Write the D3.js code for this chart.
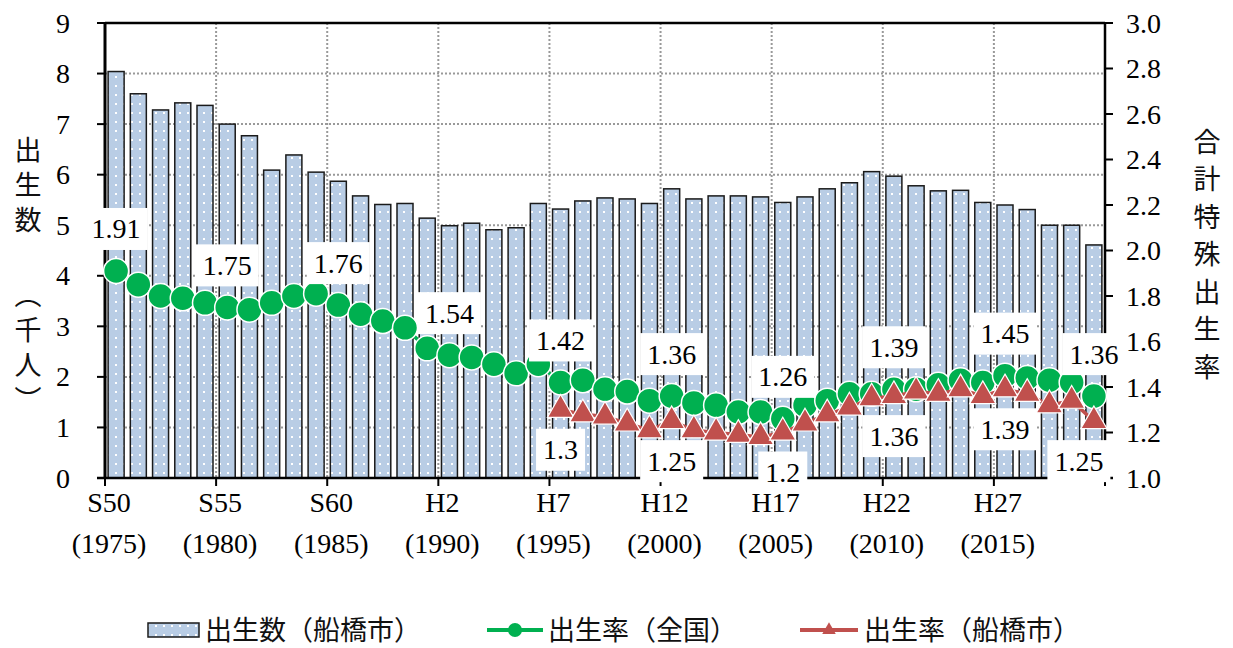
<!DOCTYPE html>
<html><head><meta charset="utf-8">
<script src="https://cdn.jsdelivr.net/npm/d3@7"></script>
<style>html,body{margin:0;padding:0;background:#fff;}svg{display:block;}</style>
</head><body>
<svg id="chart" width="1233" height="648"></svg>
<script>
// ---- data ----
const years = d3.range(1975, 2020);
const births = [8.04,7.60,7.28,7.42,7.37,7.00,6.77,6.09,6.39,6.05,
                5.87,5.58,5.41,5.43,5.14,4.99,5.04,4.91,4.95,5.43,
                5.32,5.48,5.54,5.52,5.43,5.72,5.52,5.58,5.58,5.56,
                5.45,5.56,5.72,5.84,6.06,5.97,5.78,5.68,5.69,5.45,
                5.40,5.31,5.00,5.00,4.61];
const tfrNational = [1.91,1.85,1.80,1.79,1.77,1.75,1.74,1.77,1.80,1.81,
                     1.76,1.72,1.69,1.66,1.57,1.54,1.53,1.50,1.46,1.50,
                     1.42,1.43,1.39,1.38,1.34,1.36,1.33,1.32,1.29,1.29,
                     1.26,1.32,1.34,1.37,1.37,1.39,1.39,1.41,1.43,1.42,
                     1.45,1.44,1.43,1.42,1.36];
const funabashiYears = d3.range(1995, 2020);
const tfrFunabashi = [1.30,1.28,1.27,1.24,1.21,1.25,1.21,1.20,1.19,1.18,
                      1.20,1.24,1.28,1.31,1.35,1.36,1.38,1.37,1.39,1.36,
                      1.39,1.37,1.32,1.34,1.25];
const nationalLabelYears = [1975,1980,1985,1990,1995,2000,2005,2010,2015,2019];
const funabashiLabelYears = [1995,2000,2005,2010,2015,2019];
const tickYears = [1975,1980,1985,1990,1995,2000,2005,2010,2015];
const tickEra = ["S50","S55","S60","H2","H7","H12","H17","H22","H27"];
const leftTicks = d3.range(0, 10);
const rightTicks = [1.0,1.2,1.4,1.6,1.8,2.0,2.2,2.4,2.6,2.8,3.0];
const legendNames = ["出生数（船橋市）","出生率（全国）","出生率（船橋市）"];
const leftTitle = ["出生数", "（千人）"];
const rightTitle = "合計特殊出生率";

// ---- layout ----
const L = 105, R = 1105, T = 23, B = 478;
const svg = d3.select("#chart");
const x = d3.scaleBand().domain(years).range([L, R]).padding(0);
const yL = d3.scaleLinear().domain([0, 9]).range([B, T]);
const yR = d3.scaleLinear().domain([1, 3]).range([B, T]);
const cx = yr => x(yr) + x.bandwidth() / 2;
const tickX = yr => x(yr);
const numFont = "Liberation Serif, DejaVu Serif, serif";
const jpFont = "Noto Sans CJK JP, Noto Sans, sans-serif";
const BLUE = "#b9cde5", GREEN = "#00b050", RED = "#c0504d";

// pattern
const defs = svg.append("defs");
const pat = defs.append("pattern").attr("id", "dots").attr("patternUnits", "userSpaceOnUse")
  .attr("width", 8).attr("height", 9);
pat.append("rect").attr("width", 8).attr("height", 9).attr("fill", BLUE);
pat.append("rect").attr("x", 3).attr("y", 4).attr("width", 2).attr("height", 2).attr("fill", "#fff");

// gridlines
const grid = svg.append("g");
grid.selectAll("line.h").data(leftTicks.filter(d => d > 0 && d < 9)).join("line")
  .attr("x1", L).attr("x2", R).attr("y1", d => yL(d)).attr("y2", d => yL(d))
  .attr("stroke", "#999").attr("stroke-width", 2).attr("stroke-dasharray", "2,2");
grid.selectAll("line.v").data(tickYears.slice(1)).join("line")
  .attr("x1", d => tickX(d)).attr("x2", d => tickX(d)).attr("y1", T).attr("y2", B)
  .attr("stroke", "#999").attr("stroke-width", 2).attr("stroke-dasharray", "2,2");

// bars
const bw = x.bandwidth() * 0.72;
svg.append("g").selectAll("rect").data(years).join("rect")
  .attr("x", (d) => cx(d) - bw / 2)
  .attr("y", (d, i) => yL(births[i]))
  .attr("width", bw)
  .attr("height", (d, i) => B - yL(births[i]))
  .attr("fill", "url(#dots)").attr("stroke", "#1a1a1a").attr("stroke-width", 1.5);

// axes
const ax = svg.append("g").attr("stroke", "#000");
ax.append("line").attr("x1", L).attr("x2", R).attr("y1", T).attr("y2", T).attr("stroke-width", 2.5);
ax.append("line").attr("x1", L).attr("x2", L).attr("y1", T).attr("y2", B).attr("stroke-width", 3);
ax.append("line").attr("x1", R).attr("x2", R).attr("y1", T).attr("y2", B).attr("stroke-width", 2.5);
ax.append("line").attr("x1", L - 8).attr("x2", R + 8).attr("y1", B).attr("y2", B).attr("stroke-width", 2.5);
ax.selectAll("line.lt").data(leftTicks).join("line")
  .attr("x1", L - 8).attr("x2", L).attr("y1", d => yL(d)).attr("y2", d => yL(d)).attr("stroke-width", 2);
ax.selectAll("line.rt").data(rightTicks).join("line")
  .attr("x1", R).attr("x2", R + 8).attr("y1", d => yR(d)).attr("y2", d => yR(d)).attr("stroke-width", 2);
ax.selectAll("line.bt").data(tickYears.map(tickX).concat([R])).join("line")
  .attr("x1", d => d).attr("x2", d => d).attr("y1", B).attr("y2", B + 8).attr("stroke-width", 2);

// tick labels
svg.append("g").selectAll("text").data(leftTicks).join("text")
  .attr("x", 70).attr("y", d => yL(d)).attr("dy", "0.34em").attr("text-anchor", "end")
  .attr("font-family", numFont).attr("font-size", 28).text(d => d);
svg.append("g").selectAll("text").data(rightTicks).join("text")
  .attr("x", 1126).attr("y", d => yR(d)).attr("dy", "0.34em").attr("text-anchor", "start")
  .attr("font-family", numFont).attr("font-size", 28).text(d => d.toFixed(1));
const xl = svg.append("g").attr("font-family", numFont).attr("font-size", 28).attr("text-anchor", "middle");
xl.selectAll("text.e").data(tickYears).join("text")
  .attr("x", d => tickX(d) + 4).attr("y", 502).attr("dy", "0.34em").text((d, i) => tickEra[i]);
xl.selectAll("text.yy").data(tickYears).join("text")
  .attr("x", d => tickX(d) + 4).attr("y", 543).attr("dy", "0.34em").text(d => "(" + d + ")");

// axis titles (vertical writing)
const ltStart = [136, 281];
svg.append("g").selectAll("text").data(leftTitle).join("text")
  .attr("x", 28).attr("y", (d, i) => ltStart[i])
  .style("writing-mode", "vertical-rl").style("letter-spacing", "8px")
  .attr("font-family", jpFont).attr("font-size", 27).attr("fill", "#111").text(d => d);
svg.append("text").attr("x", 1207).attr("y", 128)
  .style("writing-mode", "vertical-rl").style("letter-spacing", "10.5px")
  .attr("font-family", jpFont).attr("font-size", 27).attr("fill", "#111").text(rightTitle);

// national line
const natPts = years.map((d, i) => [cx(d), yR(tfrNational[i])]);
svg.append("path").attr("d", d3.line()(natPts)).attr("fill", "none")
  .attr("stroke", GREEN).attr("stroke-width", 3.5);
svg.append("g").selectAll("circle").data(natPts).join("circle")
  .attr("cx", d => d[0]).attr("cy", d => d[1]).attr("r", 12.5)
  .attr("fill", GREEN).attr("stroke", "#fff").attr("stroke-width", 1.5);

// funabashi line
const funPts = funabashiYears.map((d, i) => [cx(d), yR(tfrFunabashi[i])]);
svg.append("path").attr("d", d3.line()(funPts)).attr("fill", "none")
  .attr("stroke", RED).attr("stroke-width", 3.5);
const tri = d3.symbol().type(d3.symbolTriangle).size(300);
svg.append("g").selectAll("path").data(funPts).join("path")
  .attr("transform", d => `translate(${d[0]},${d[1]})`).attr("d", tri)
  .attr("fill", RED).attr("stroke", "#fff").attr("stroke-width", 1.2);

// data labels
function addLabel(g, xc, yc, txt) {
  const t = g.append("text").attr("x", xc).attr("y", yc).attr("dy", "0.34em")
    .attr("text-anchor", "middle").attr("font-family", numFont).attr("font-size", 28)
    .attr("fill", "#000").text(txt);
  const bb = t.node().getBBox();
  g.insert("rect", "text").attr("x", xc - bb.width / 2 - 7).attr("y", yc - 21)
    .attr("width", bb.width + 14).attr("height", 42).attr("fill", "#fff");
}
nationalLabelYears.forEach(yr => {
  const i = years.indexOf(yr);
  addLabel(svg.append("g"), cx(yr), yR(tfrNational[i]) - 42, String(tfrNational[i]));
});
funabashiLabelYears.forEach(yr => {
  const i = funabashiYears.indexOf(yr);
  const dx = yr === 2019 ? -15 : 0;
  addLabel(svg.append("g"), cx(yr) + dx, yR(tfrFunabashi[i]) + 40, String(tfrFunabashi[i]));
});

// legend
const lg = svg.append("g").attr("font-family", jpFont).attr("font-size", 27).attr("fill", "#111");
const LY = 630;
lg.append("rect").attr("x", 148).attr("y", LY - 7).attr("width", 51).attr("height", 14)
  .attr("fill", "url(#dots)").attr("stroke", "#1a1a1a").attr("stroke-width", 1.5);
lg.append("text").attr("x", 205).attr("y", LY).attr("dy", "0.36em").text(legendNames[0]);
lg.append("line").attr("x1", 487).attr("x2", 543).attr("y1", LY).attr("y2", LY)
  .attr("stroke", GREEN).attr("stroke-width", 4);
lg.append("circle").attr("cx", 515).attr("cy", LY).attr("r", 7).attr("fill", GREEN);
lg.append("text").attr("x", 548).attr("y", LY).attr("dy", "0.36em").text(legendNames[1]);
lg.append("line").attr("x1", 800).attr("x2", 858).attr("y1", LY).attr("y2", LY)
  .attr("stroke", RED).attr("stroke-width", 4);
lg.append("path").attr("transform", `translate(829,${LY})`)
  .attr("d", d3.symbol().type(d3.symbolTriangle).size(80)).attr("fill", RED);
lg.append("text").attr("x", 864).attr("y", LY).attr("dy", "0.36em").text(legendNames[2]);
</script>
</body></html>
